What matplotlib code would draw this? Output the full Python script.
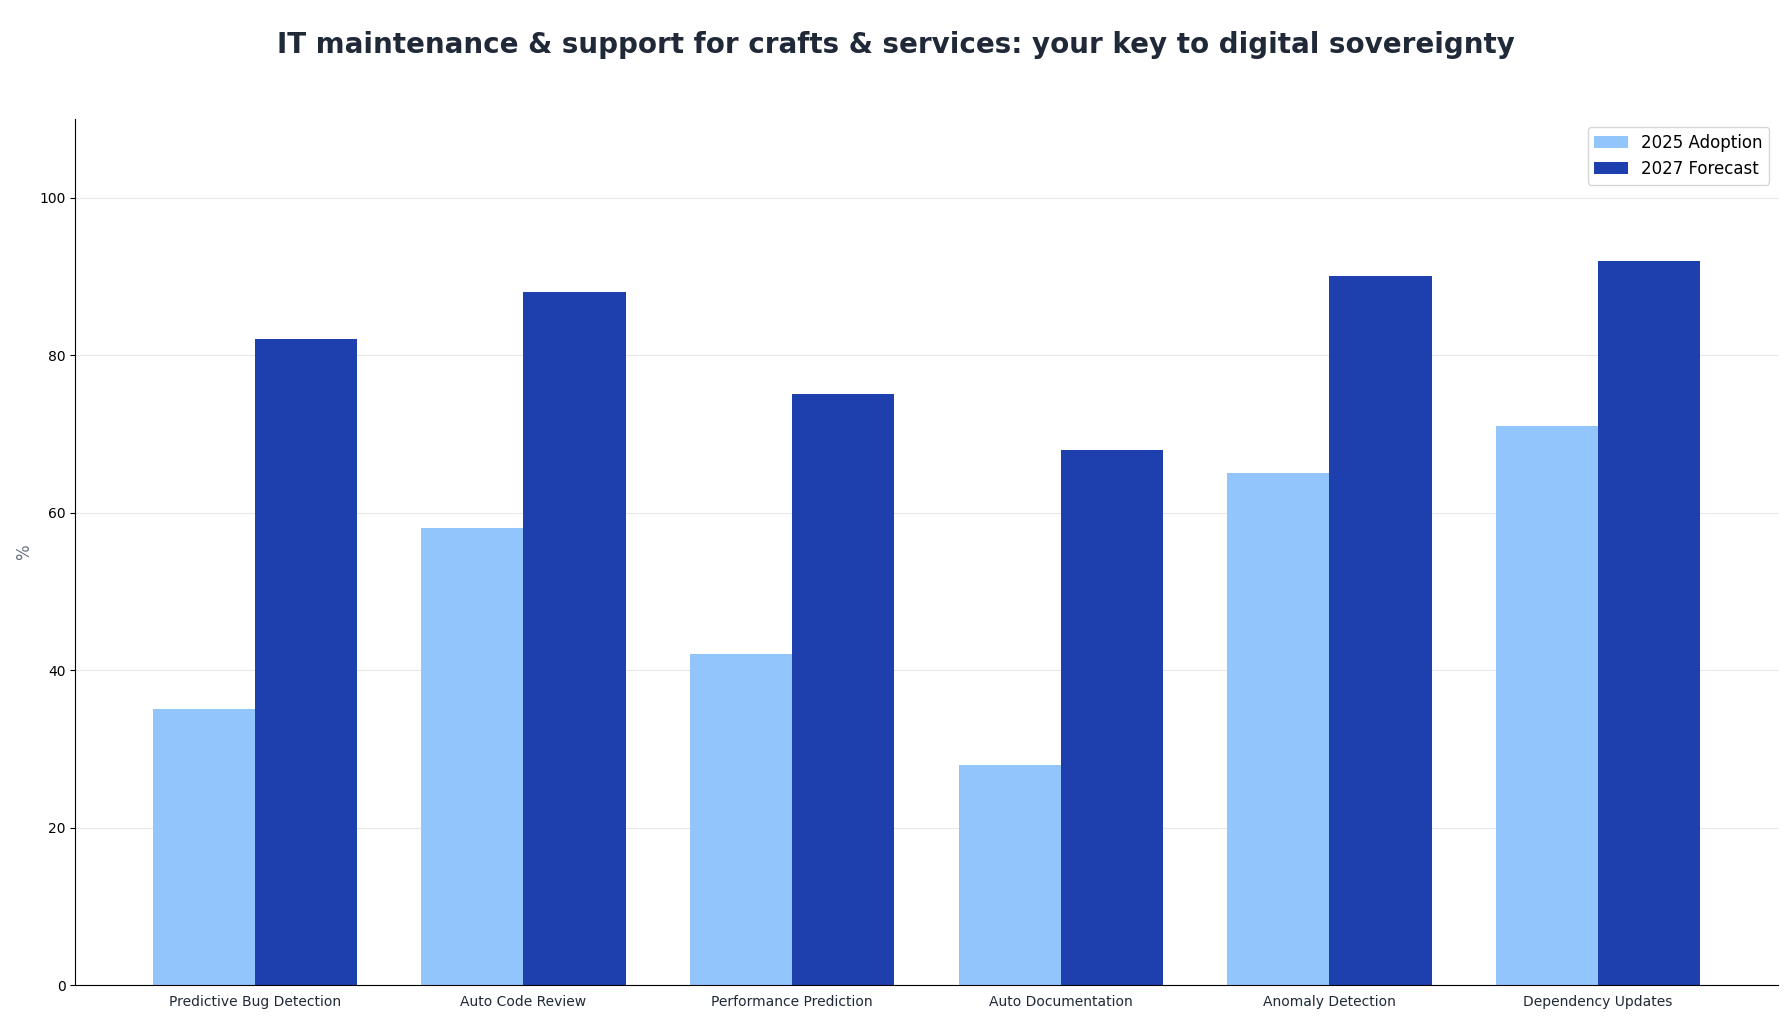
import matplotlib.pyplot as plt
import numpy as np

# chart data
categories = ['Predictive Bug Detection', 'Auto Code Review', 'Performance Prediction',
              'Auto Documentation', 'Anomaly Detection', 'Dependency Updates']
adoption_2025 = [35, 58, 42, 28, 65, 71]
forecast_2027 = [82, 88, 75, 68, 90, 92]
series_names = ['2025 Adoption', '2027 Forecast']

fig = plt.figure(figsize=(17.92, 10.24), dpi=100)
ax = fig.add_axes([0.042, 0.038, 0.95, 0.846])

x = np.arange(len(categories))
w = 0.38
ax.bar(x - w / 2, adoption_2025, w, color='#93c5fd', label=series_names[0], zorder=2)
ax.bar(x + w / 2, forecast_2027, w, color='#1e40af', label=series_names[1], zorder=2)

ax.set_xticks(x)
ax.set_xticklabels(categories, fontsize=10, color='#1f2937')
ax.tick_params(axis='x', length=0, pad=7)
ax.tick_params(axis='y', labelsize=10)
ax.set_ylim(0, 110)
ax.set_yticks([0, 20, 40, 60, 80, 100])
ax.set_ylabel('%', fontsize=12, color='#6b7280')

ax.grid(axis='y', color='#e5e7eb', linewidth=0.8, zorder=0)
ax.set_axisbelow(True)
ax.spines['top'].set_visible(False)
ax.spines['right'].set_visible(False)

ax.legend(loc='upper right', fontsize=12)

fig.suptitle('IT maintenance & support for crafts & services: your key to digital sovereignty',
             fontsize=20, fontweight='bold', color='#1f2937', y=0.956, va='center')

fig.savefig('out.png', dpi=100)
